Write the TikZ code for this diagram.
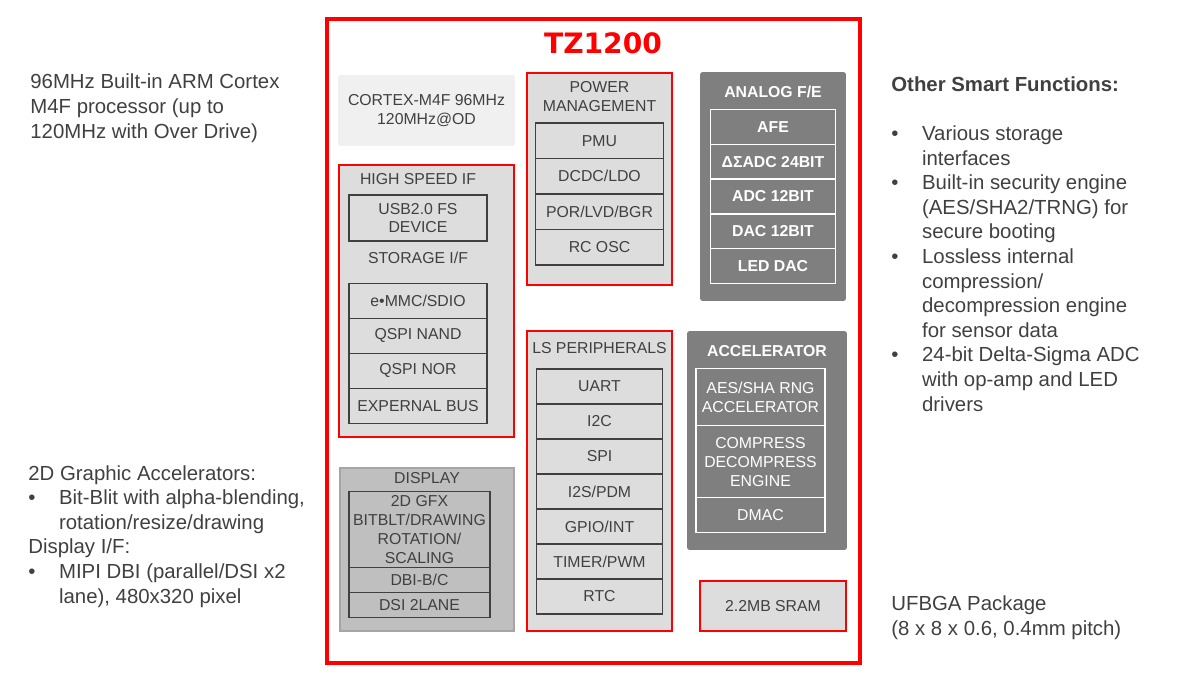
\documentclass[tikz,border=0pt]{standalone}
\usepackage{fontspec}
\setmainfont{Liberation Sans}
\newfontfamily\chipfont{DejaVu Sans}
\usetikzlibrary{positioning}
\definecolor{chipred}{HTML}{FF0000}
\definecolor{textgrey}{HTML}{404040}
\definecolor{blockfill}{HTML}{DDDDDD}
\definecolor{corefill}{HTML}{F0F0F0}
\definecolor{dispfill}{HTML}{BFBFBF}
\definecolor{dispborder}{HTML}{A5A5A5}
\definecolor{darkfill}{HTML}{7F7F7F}
\newcommand{\cellsize}{\fontsize{9}{10.8}\selectfont}
\newcommand{\sidesize}{\fontsize{11.6}{14}\selectfont}
\newcommand{\blt}{\makebox[17.5pt][l]{•}}
\newcommand{\ind}{\hspace*{17.5pt}}
\tikzset{
    chip/.style={
        draw=chipred, line width=2.6pt, inner sep=0pt,
    },
    group/.style={
        draw=chipred, fill=blockfill, line width=1.1pt, inner sep=0pt,
    },
    darkgroup/.style={
        fill=darkfill, rounded corners=1.5pt, inner sep=0pt,
    },
    grouptitle/.style={
        font=\cellsize, text=textgrey, align=center, inner sep=0pt,
    },
    darktitle/.style={
        font=\cellsize\bfseries, text=white, inner sep=0pt,
    },
    cell/.style={
        draw=textgrey, fill=blockfill, line width=0.8pt,
        outer sep=0pt, inner sep=0pt, minimum width=#1,
        font=\cellsize, text=textgrey, align=center,
    },
    darkcell/.style={
        draw=white, line width=0.8pt,
        outer sep=0pt, inner sep=0pt, minimum width=#1,
        font=\cellsize, text=white, align=center,
    },
    % base of a multi-line note = baseline of its last line
    sidetext/.style={
        font=\sidesize, text=textgrey, align=left,
        inner sep=0pt, anchor=base west,
    },
}

\begin{document}
\begin{tikzpicture}[x=0.02cm, y=-0.02cm]
\useasboundingbox (0,0) rectangle (1190,690);

% ── Chip outline ─────────────────────────────────────────────
\node[chip, minimum width=10.66cm, minimum height=12.88cm] (chip) at (593.5,341) {};
\node[font=\chipfont\bfseries\fontsize{16}{19}\selectfont, text=chipred, inner sep=0pt] (chipname) at (603,43) {TZ1200};

% ── Core ─────────────────────────────────────────────────────
\node[fill=corefill, rounded corners=1.5pt, minimum width=3.54cm, minimum height=1.42cm,
      font=\cellsize, text=textgrey, align=center] (cortex) at (426.5,110.5) {CORTEX-M4F 96MHz\\120MHz@OD};

% ── Power management ─────────────────────────────────────────
\node[group, minimum width=2.9cm, minimum height=4.24cm] (power) at (599.5,179) {};
\node[grouptitle, below=0.18cm of power.north] (pmtitle) {POWER\\MANAGEMENT};
\node[cell=2.56cm, minimum height=0.71cm, below=1.02cm of power.north] (pmu) {PMU};
\node[cell=2.56cm, minimum height=0.71cm, below=0pt of pmu] (dcdc) {DCDC/LDO};
\node[cell=2.56cm, minimum height=0.71cm, below=0pt of dcdc] (por) {POR/LVD/BGR};
\node[cell=2.56cm, minimum height=0.71cm, below=0pt of por] (rcosc) {RC OSC};

% ── High speed / storage interfaces ──────────────────────────
\node[group, minimum width=3.5cm, minimum height=5.44cm] (hsif) at (426.5,301) {};
\node[cell=2.76cm, minimum height=0.92cm, below=0.62cm of hsif.north, xshift=-0.17cm] (usb) {USB2.0 FS\\DEVICE};
\node[grouptitle, above=0.2cm of usb] (hstitle) {HIGH SPEED IF};
\node[grouptitle, below=0.22cm of usb] (sttitle) {STORAGE I/F};
\node[cell=2.76cm, minimum height=0.7cm, below=0.38cm of sttitle] (emmc) {e•MMC/SDIO};
\node[cell=2.76cm, minimum height=0.7cm, below=0pt of emmc] (qnand) {QSPI NAND};
\node[cell=2.76cm, minimum height=0.7cm, below=0pt of qnand] (qnor) {QSPI NOR};
\node[cell=2.76cm, minimum height=0.7cm, below=0pt of qnor] (extbus) {EXPERNAL BUS};

% ── Display ──────────────────────────────────────────────────
\node[group, draw=dispborder, fill=dispfill, line width=1.4pt,
      minimum width=3.48cm, minimum height=3.26cm] (display) at (427,549.5) {};
\node[grouptitle, below=0.1cm of display.north] (disptitle) {DISPLAY};
\node[cell=2.82cm, fill=dispfill, minimum height=1.52cm, below=0.5cm of display.north, xshift=-0.15cm] (gfx) {2D GFX\\BITBLT/DRAWING\\ROTATION/\\SCALING};
\node[cell=2.82cm, fill=dispfill, minimum height=0.5cm, below=0pt of gfx] (dbi) {DBI-B/C};
\node[cell=2.82cm, fill=dispfill, minimum height=0.5cm, below=0pt of dbi] (dsi) {DSI 2LANE};

% ── LS peripherals ───────────────────────────────────────────
\node[group, minimum width=2.9cm, minimum height=6cm] (lsper) at (599.5,481) {};
\node[grouptitle, below=0.24cm of lsper.north] (lstitle) {LS PERIPHERALS};
\node[cell=2.52cm, minimum height=0.7cm, below=0.78cm of lsper.north] (uart) {UART};
\node[cell=2.52cm, minimum height=0.7cm, below=0pt of uart] (itwoc) {I2C};
\node[cell=2.52cm, minimum height=0.7cm, below=0pt of itwoc] (spi) {SPI};
\node[cell=2.52cm, minimum height=0.7cm, below=0pt of spi] (itwos) {I2S/PDM};
\node[cell=2.52cm, minimum height=0.7cm, below=0pt of itwos] (gpio) {GPIO/INT};
\node[cell=2.52cm, minimum height=0.7cm, below=0pt of gpio] (timer) {TIMER/PWM};
\node[cell=2.52cm, minimum height=0.7cm, below=0pt of timer] (rtc) {RTC};

% ── Analog front end ─────────────────────────────────────────
\node[darkgroup, minimum width=2.92cm, minimum height=4.58cm] (analog) at (773,186.5) {};
\node[darktitle, below=0.29cm of analog.north] (antitle) {ANALOG F/E};
\node[darkcell=2.5cm, font=\cellsize\bfseries, minimum height=0.695cm, below=0.76cm of analog.north] (afe) {AFE};
\node[darkcell=2.5cm, font=\cellsize\bfseries, minimum height=0.695cm, below=0pt of afe] (sdadc) {ΔΣADC 24BIT};
\node[darkcell=2.5cm, font=\cellsize\bfseries, minimum height=0.695cm, below=0pt of sdadc] (adc) {ADC 12BIT};
\node[darkcell=2.5cm, font=\cellsize\bfseries, minimum height=0.695cm, below=0pt of adc] (dac) {DAC 12BIT};
\node[darkcell=2.5cm, font=\cellsize\bfseries, minimum height=0.695cm, below=0pt of dac] (leddac) {LED DAC};

% ── Accelerator ──────────────────────────────────────────────
\node[darkgroup, minimum width=3.2cm, minimum height=4.38cm] (accel) at (767,440.5) {};
\node[darktitle, below=0.28cm of accel.north] (actitle) {ACCELERATOR};
\node[darkcell=2.58cm, minimum height=1.14cm, below=0.76cm of accel.north, xshift=-0.13cm] (aes) {AES/SHA RNG\\ACCELERATOR};
\node[darkcell=2.58cm, minimum height=1.44cm, below=0pt of aes] (compress) {COMPRESS\\DECOMPRESS\\ENGINE};
\node[darkcell=2.58cm, minimum height=0.7cm, below=0pt of compress] (dmac) {DMAC};

% ── Memory ───────────────────────────────────────────────────
\node[group, minimum width=2.92cm, minimum height=1cm, font=\cellsize, text=textgrey] (sram) at (773,606) {2.2MB SRAM};

% ── Side notes ───────────────────────────────────────────────
\node[sidetext] (arminfo) at (30,138) {96MHz Built-in ARM Cortex\\M4F processor (up to\\120MHz with Over Drive)};
\node[sidetext] (gfxinfo) at (28,603) {2D Graphic Accelerators:\\\blt Bit-Blit with alpha-blending,\\\ind rotation/resize/drawing\\Display I/F:\\\blt MIPI DBI (parallel/DSI x2\\\ind lane), 480x320 pixel};
\node[sidetext] (smartinfo) at (891,411) {\textbf{Other Smart Functions:}\\[14pt]\blt Various storage\\\ind interfaces\\\blt Built-in security engine\\\ind (AES/SHA2/TRNG) for\\\ind secure booting\\\blt Lossless internal\\\ind compression/\\\ind decompression engine\\\ind for sensor data\\\blt 24-bit Delta-Sigma ADC\\\ind with op-amp and LED\\\ind drivers};
\node[sidetext] (pkginfo) at (891,635) {UFBGA Package\\(8 x 8 x 0.6, 0.4mm pitch)};

\end{tikzpicture}
\end{document}
